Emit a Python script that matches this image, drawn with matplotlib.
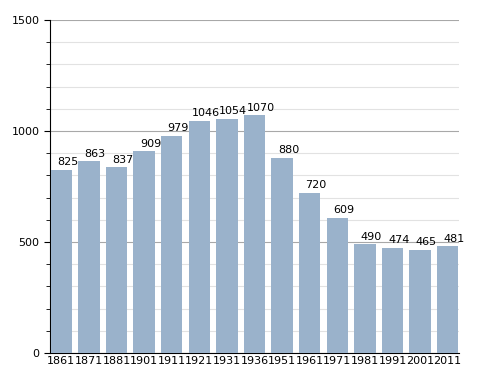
import matplotlib
matplotlib.use("Agg")
import matplotlib.pyplot as plt
from matplotlib.ticker import MultipleLocator

# ==================================
# DATA
# ==================================

years = ["1861", "1871", "1881", "1901", "1911", "1921", "1931", "1936",
         "1951", "1961", "1971", "1981", "1991", "2001", "2011"]
population = [825, 863, 837, 909, 979, 1046, 1054, 1070,
              880, 720, 609, 490, 474, 465, 481]

# ==================================
# FIGURE
# ==================================

fig = plt.figure(figsize=(4.88, 3.73), dpi=100)
ax = fig.add_axes([50 / 488, 20 / 373, 409 / 488, 333 / 373])

x = range(len(years))
ax.bar(x, population, width=0.77, color="#9ab2cb", zorder=3)

# value labels, shifted a bit right like the original
for i, v in enumerate(population):
    ax.text(i + 0.23, v + 12, str(v), ha="center", va="bottom",
            fontsize=8, zorder=4)

ax.set_xlim(-0.41, len(years) - 0.59)
ax.set_ylim(0, 1500)
ax.set_xticks(list(x))
ax.set_xticklabels(years, fontsize=8)
ax.yaxis.set_major_locator(MultipleLocator(500))
ax.yaxis.set_minor_locator(MultipleLocator(100))
ax.tick_params(axis="y", labelsize=8, length=4)
ax.tick_params(axis="y", which="minor", length=3)
ax.tick_params(axis="x", length=0, pad=2)

ax.grid(axis="y", which="major", color="#a8a8a8", linewidth=0.8, zorder=1)
ax.grid(axis="y", which="minor", color="#e2e2e2", linewidth=0.8, zorder=1)

ax.spines["top"].set_visible(False)
ax.spines["right"].set_visible(False)

fig.savefig("out.png", dpi=100)
